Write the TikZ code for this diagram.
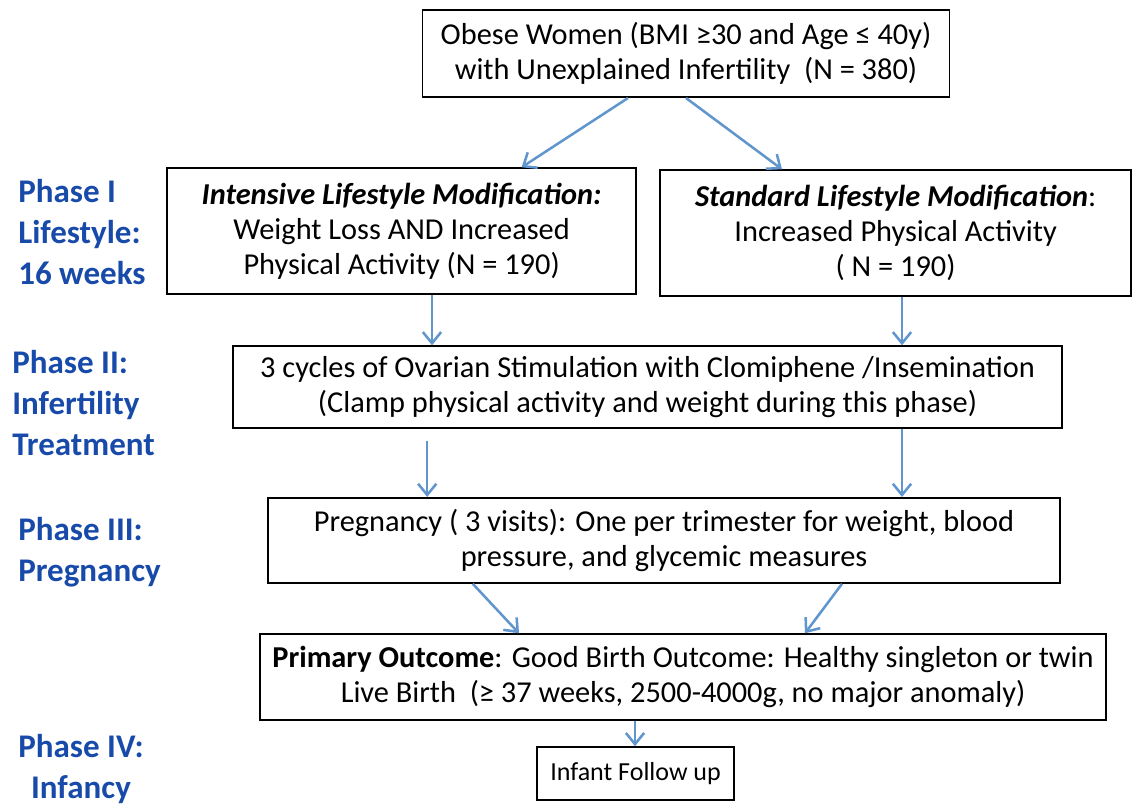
\documentclass[tikz,border=0pt]{standalone}
\usepackage{fontspec}
\setmainfont{Carlito}
\usetikzlibrary{arrows.meta}

\definecolor{arrowblue}{RGB}{96,150,205}
\definecolor{phaseblue}{RGB}{24,74,170}

\tikzset{
  box/.style={draw, line width=1.3pt, align=center, inner sep=0pt,
    font=\fontsize{21.6}{25}\selectfont},
  phase/.style={anchor=west, align=left, inner sep=0pt, text=phaseblue,
    font=\fontsize{23.5}{29}\selectfont\bfseries},
  arr/.style={draw=arrowblue, line width=1.8pt, -{Straight Barb[length=8pt,width=13pt]}}
}

\begin{document}
\begin{tikzpicture}
	\useasboundingbox (0,0) rectangle (28.375,-20.2);
	% boxes
	\node[box, minimum width=13.175cm, minimum height=2.175cm] (top) at (17.15,-1.34)
		{Obese Women (BMI ≥30 and Age ≤ 40y)\\with Unexplained Infertility\ \ (N = 380)};
	\node[box, minimum width=11.725cm, minimum height=3.15cm] (inten) at (10.04,-5.78)
		{\textbf{\textit{Intensive Lifestyle Modification:}}\\Weight Loss AND Increased\\Physical Activity (N = 190)};
	\node[box, minimum width=11.775cm, minimum height=3.15cm] (stand) at (22.39,-5.83)
		{\textbf{\textit{Standard Lifestyle Modification}}:\\Increased Physical Activity\\( N = 190)};
	\node[box, minimum width=20.725cm, minimum height=2.05cm] (clom) at (16.19,-9.68)
		{3 cycles of Ovarian Stimulation with Clomiphene /Insemination\\(Clamp physical activity and weight during this phase)};
	\node[box, minimum width=19.8cm, minimum height=2.125cm] (preg) at (16.6,-13.51)
		{Pregnancy ( 3 visits): One per trimester for weight, blood\\pressure, and glycemic measures};
	\node[box, minimum width=21.15cm, minimum height=2.15cm] (outc) at (17.075,-16.93)
		{\textbf{Primary Outcome}: Good Birth Outcome: Healthy singleton or twin\\Live Birth\ \ (≥ 37 weeks, 2500-4000g, no major anomaly)};
	\node[box, minimum width=4.925cm, minimum height=1.325cm, font=\fontsize{18.5}{22}\selectfont] (infant) at (15.89,-19.34)
		{Infant Follow up};
	% phase labels
	\node[phase] (ph1) at (0.45,-5.8) {Phase I\\Lifestyle:\\16 weeks};
	\node[phase] (ph2) at (0.3,-10.07) {Phase II:\\Infertility\\Treatment};
	\node[phase] (ph3) at (0.45,-13.8) {Phase III:\\Pregnancy};
	\node[phase, align=center] (ph4) at (0.45,-19.22) {Phase IV:\\Infancy};
	% arrows
	\draw[arr] ([xshift=-1.45cm]top.south) -- ([xshift=3.0cm]inten.north);
	\draw[arr] (top.south) -- ([xshift=-2.84cm]stand.north);
	\draw[arr] ([xshift=0.76cm]inten.south) -- ([xshift=0.76cm]inten.south |- clom.north);
	\draw[arr] ([xshift=0.16cm]stand.south) -- ([xshift=0.16cm]stand.south |- clom.north);
	\draw[arr] ([xshift=-5.51cm,yshift=-0.3cm]clom.south) -- ([xshift=-5.51cm]clom.south |- preg.north);
	\draw[arr] ([xshift=6.36cm]clom.south) -- ([xshift=6.36cm]clom.south |- preg.north);
	\draw[arr] ([xshift=-4.78cm]preg.south) -- ([xshift=-4.1cm]outc.north);
	\draw[arr] ([xshift=4.45cm]preg.south) -- ([xshift=3.05cm]outc.north);
	\draw[arr] ([xshift=-1.2cm]outc.south) -- ([xshift=-1.2cm]outc.south |- infant.north);
\end{tikzpicture}
\end{document}
